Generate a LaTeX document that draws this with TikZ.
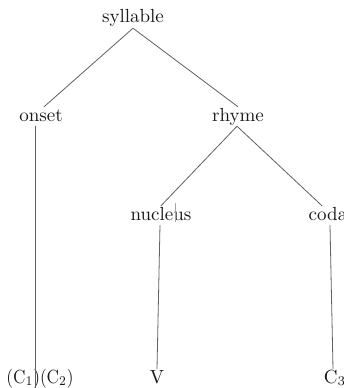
\documentclass[tikz,border=0pt]{standalone}
\usepackage{graphicx}
\tikzset{
  lbl/.style={inner sep=0pt, text height=14pt, text depth=5pt, anchor=base, text=black!90},
  branch/.style={draw=black!62, line width=0.8pt},
}
\newcommand\Bigtxt[1]{\scalebox{1.9}{#1}}
\begin{document}
\begin{tikzpicture}[x=1pt,y=-1pt]
\clip (0,0) rectangle (343,388);
\fill[white] (0,0) rectangle (343,388);
\node[lbl] (syl) at (133,23) {\Bigtxt{syllable}};
\node[lbl] (onset) at (41,121) {\Bigtxt{onset}};
\node[lbl] (rhyme) at (238,121) {\Bigtxt{rhyme}};
\node[lbl] (nucleus) at (161,220) {\Bigtxt{nucleus}};
\node[lbl] (coda) at (328,220) {\Bigtxt{coda}};
\node[lbl] (c12) at (40,383) {\scalebox{1.72}[1.9]{(C$_1$)(C$_2$)}};
\node[lbl] (v) at (157,383) {\Bigtxt{V}};
\node[lbl] (c3) at (335,383) {\Bigtxt{C$_3$}};
\draw[branch] (syl.south) -- ([xshift=3pt]onset.north);
\draw[branch] (syl.south) -- (rhyme.north);
\draw[branch] ([xshift=-1pt]rhyme.south) -- (nucleus.north);
\draw[branch] ([xshift=-1pt]rhyme.south) -- ([xshift=-6pt]coda.north);
\draw[branch] ([xshift=-6pt]onset.south) -- ([shift={(-5pt,-5pt)}]c12.base);
\draw[branch] ([xshift=-1pt]nucleus.south) -- (v.north);
\draw[branch] ([xshift=2pt]coda.south) -- ([xshift=-2pt]c3.north);
\draw[draw=black!35, line width=0.5pt] (175,203) -- (175,222);
\end{tikzpicture}
\end{document}
